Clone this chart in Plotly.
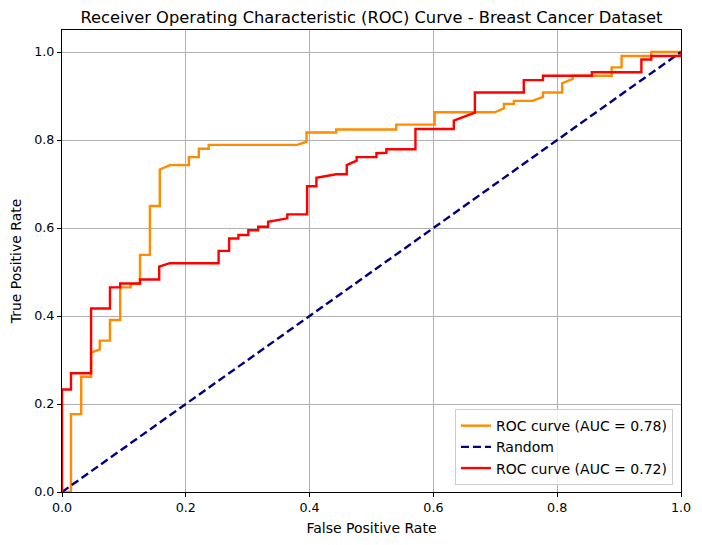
import plotly.graph_objects as go

fpr_a = [0, 0.0145, 0.0145, 0.031, 0.031, 0.047, 0.047, 0.061, 0.061, 0.0775, 0.0775, 0.094, 0.094,
         0.111, 0.111, 0.126, 0.126, 0.142, 0.142, 0.158, 0.158, 0.174, 0.205, 0.205, 0.221, 0.221,
         0.237, 0.237, 0.380, 0.395, 0.395, 0.443, 0.443, 0.540, 0.540, 0.602, 0.602, 0.699, 0.714,
         0.714, 0.730, 0.730, 0.760, 0.777, 0.777, 0.808, 0.808, 0.825, 0.825, 0.888, 0.888, 0.904,
         0.904, 0.952, 0.952, 1.0]
tpr_a = [0, 0, 0.177, 0.177, 0.262, 0.262, 0.317, 0.324, 0.344, 0.344, 0.391, 0.391, 0.465,
         0.465, 0.473, 0.473, 0.539, 0.539, 0.650, 0.650, 0.733, 0.743, 0.743, 0.761, 0.761, 0.780,
         0.780, 0.789, 0.789, 0.796, 0.817, 0.817, 0.824, 0.824, 0.835, 0.835, 0.863, 0.863, 0.872,
         0.882, 0.882, 0.889, 0.889, 0.898, 0.908, 0.908, 0.929, 0.939, 0.946, 0.946, 0.965, 0.965,
         0.991, 0.991, 1.0, 1.0]

fpr_b = [0, 0, 0.0145, 0.0145, 0.047, 0.047, 0.0775, 0.0775, 0.094, 0.094, 0.126, 0.126, 0.157,
         0.157, 0.174, 0.253, 0.253, 0.270, 0.270, 0.285, 0.285, 0.301, 0.301, 0.317, 0.317, 0.333,
         0.333, 0.364, 0.364, 0.396, 0.396, 0.411, 0.411, 0.443, 0.460, 0.460, 0.476, 0.476, 0.508,
         0.508, 0.524, 0.524, 0.571, 0.571, 0.633, 0.633, 0.667, 0.667, 0.746, 0.746, 0.777, 0.777,
         0.856, 0.856, 0.936, 0.936, 0.952, 0.952, 1.0, 1.0]
tpr_b = [0, 0.233, 0.233, 0.270, 0.270, 0.417, 0.417, 0.465, 0.465, 0.474, 0.474, 0.483, 0.483,
         0.512, 0.520, 0.520, 0.548, 0.548, 0.576, 0.576, 0.584, 0.584, 0.595, 0.595, 0.603, 0.603,
         0.614, 0.622, 0.631, 0.631, 0.695, 0.695, 0.714, 0.722, 0.722, 0.743, 0.753, 0.761, 0.761,
         0.770, 0.771, 0.779, 0.779, 0.825, 0.825, 0.844, 0.862, 0.908, 0.908, 0.936, 0.936, 0.946,
         0.946, 0.954, 0.954, 0.983, 0.983, 0.991, 0.991, 1.0]

rand_x = [0, 1]
rand_y = [0, 1]

names = ["ROC curve (AUC = 0.78)", "Random", "ROC curve (AUC = 0.72)"]
tickvals = [0, 0.2, 0.4, 0.6, 0.8, 1.0]
ticktext = ["0.0", "0.2", "0.4", "0.6", "0.8", "1.0"]

fig = go.Figure()
fig.add_trace(go.Scatter(x=fpr_a, y=tpr_a, mode="lines", name=names[0],
                         line=dict(color="darkorange", width=2.4)))
fig.add_trace(go.Scatter(x=rand_x, y=rand_y, mode="lines", name=names[1],
                         line=dict(color="navy", width=2.4, dash="8px,4px")))
fig.add_trace(go.Scatter(x=fpr_b, y=tpr_b, mode="lines", name=names[2],
                         line=dict(color="red", width=2.4)))

axis_common = dict(showgrid=True, gridcolor="#b0b0b0", gridwidth=0.8, zeroline=False,
                   showline=True, linecolor="black", linewidth=1, mirror=True,
                   ticks="outside", ticklen=4, tickcolor="black",
                   tickvals=tickvals, ticktext=ticktext,
                   tickfont=dict(family="DejaVu Sans", size=12.7, color="black"))

fig.update_layout(
    width=702, height=545,
    margin=dict(l=62, r=21, t=30, b=53),
    paper_bgcolor="white", plot_bgcolor="white",
    font=dict(family="DejaVu Sans", color="black"),
    title=dict(text="Receiver Operating Characteristic (ROC) Curve - Breast Cancer Dataset",
               x=0.5, xanchor="center", xref="paper", yref="container", y=0.968, yanchor="middle",
               font=dict(size=16.3, color="black")),
    xaxis=dict(range=[0, 1], title=dict(text="False Positive Rate", font=dict(size=14), standoff=8),
               **axis_common),
    yaxis=dict(range=[0, 1.05], title=dict(text="True Positive Rate", font=dict(size=14), standoff=9),
               **axis_common),
    legend=dict(x=0.987, y=0.015, xanchor="right", yanchor="bottom",
                bgcolor="rgba(255,255,255,0.8)", bordercolor="#cccccc", borderwidth=1,
                font=dict(size=14, color="black"), tracegroupgap=0, itemwidth=30),
    showlegend=True,
)

fig.write_html(
    "out.html",
    config={"displayModeBar": False},
    post_script="document.body.style.margin='0';document.body.style.overflow='hidden';"
                "document.documentElement.style.overflow='hidden';",
)
